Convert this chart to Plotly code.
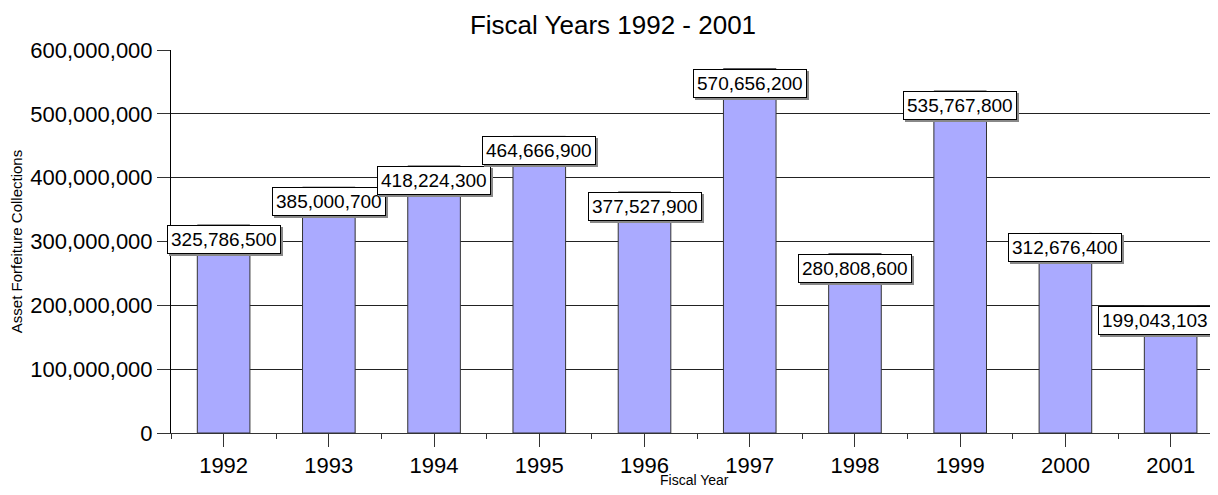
import plotly.graph_objects as go

# 数据
years = ["1992", "1993", "1994", "1995", "1996", "1997", "1998", "1999", "2000", "2001"]
collections = [325786500, 385000700, 418224300, 464666900, 377527900,
               570656200, 280808600, 535767800, 312676400, 199043103]
y_ticks = [0, 100000000, 200000000, 300000000, 400000000, 500000000, 600000000]
y_tick_text = ["{:,}".format(v) for v in y_ticks]

FONT = "Liberation Sans, Arial, sans-serif"
x_pos = list(range(len(years)))

fig = go.Figure()

fig.add_trace(go.Bar(
    x=x_pos, y=collections, width=0.5,
    marker=dict(color="#aaaaff", line=dict(color="#333333", width=1)),
    hoverinfo="skip",
))

# 数值标签（带阴影的白色框，顶部对齐数值）
for xv, val in zip(x_pos, collections):
    txt = "{:,}".format(val)
    dx = -16 if xv == len(years) - 1 else 0  # 最后一个左移，避免被右边裁掉
    fig.add_annotation(
        x=xv, y=val, text=txt, showarrow=False, yanchor="top",
        xshift=dx + 2, yshift=-2,
        font=dict(family=FONT, size=19, color="#888888"),
        bgcolor="#888888", bordercolor="#888888", borderwidth=1, borderpad=3,
    )
    fig.add_annotation(
        x=xv, y=val, text=txt, showarrow=False, yanchor="top",
        xshift=dx,
        font=dict(family=FONT, size=19, color="black"),
        bgcolor="white", bordercolor="black", borderwidth=1, borderpad=3,
    )

# x 轴标题用注释放置（关闭 automargin 后 standoff 不起作用）
fig.add_annotation(
    x=0.5, y=0, xref="paper", yref="paper", text="Fiscal Year",
    showarrow=False, yanchor="middle", yshift=-47,
    font=dict(family=FONT, size=14, color="black"),
)

# 页面 body 默认有 8px 边距，尺寸与边距相应缩小
fig.update_layout(
    width=1210, height=479,
    margin=dict(l=163, r=0, t=42, b=54),
    paper_bgcolor="white", plot_bgcolor="white",
    showlegend=False,
    title=dict(text="Fiscal Years 1992 - 2001", x=0.5, xanchor="center",
               y=0.965, yanchor="middle",
               font=dict(family=FONT, size=26, color="black")),
    font=dict(family=FONT, color="black"),
)

fig.update_xaxes(
    range=[-0.5, 9.45],
    tickvals=x_pos, ticktext=years,
    tickfont=dict(family=FONT, size=22),
    ticks="outside", ticklen=13, tickcolor="#333333",
    minor=dict(ticks="outside", ticklen=5, tick0=0.5, dtick=1, tickcolor="#333333"),
    showgrid=False, zeroline=False,
    showline=True, linecolor="#333333", linewidth=1,
    automargin=False,
)

fig.update_yaxes(
    range=[0, 600000000],
    tickvals=y_ticks, ticktext=y_tick_text,
    tickfont=dict(family=FONT, size=22),
    ticks="outside", ticklen=13, tickcolor="#333333",
    showgrid=True, gridcolor="#222222", gridwidth=1,
    zeroline=False,
    showline=True, linecolor="black", linewidth=1,
    automargin=False,
    title=dict(text="Asset Forfeiture Collections", font=dict(family=FONT, size=15), standoff=4),
)

fig.write_html("out.html")
